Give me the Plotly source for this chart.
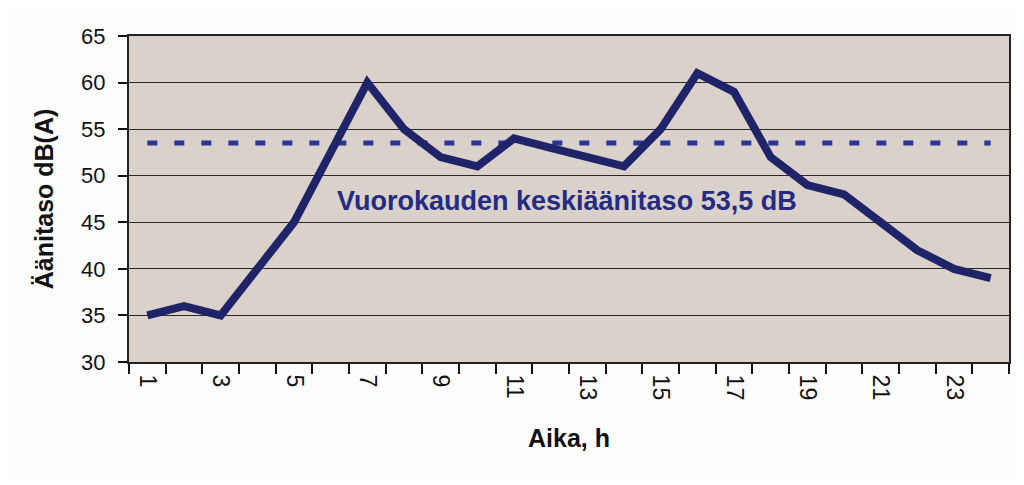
import plotly.graph_objects as go

# tunnit ja keskiäänitasot
hours = list(range(1, 25))
levels = [35, 36, 35, 40, 45, 52.5, 60, 55, 52, 51, 54, 53,
          52, 51, 55, 61, 59, 52, 49, 48, 45, 42, 40, 39]
day_avg = 53.5
avg_label = "Vuorokauden keskiäänitaso 53,5 dB"
x_ticks = [h for h in hours if h % 2 == 1]

fig = go.Figure()

# keskiarvoviiva
fig.add_trace(go.Scatter(
    x=hours, y=[day_avg] * len(hours), mode="lines",
    line=dict(color="#2b3593", width=5, dash="10px,17px"),
    showlegend=False, hoverinfo="skip"))

fig.add_trace(go.Scatter(
    x=hours, y=levels, mode="lines",
    line=dict(color="#1f2468", width=8),
    showlegend=False))

fig.add_annotation(x=12.45, y=47.3, text=avg_label, showarrow=False,
                   xanchor="center", yanchor="middle",
                   font=dict(family="Liberation Sans, Arial", size=27,
                             color="#252b80", weight="bold"))

# sivun oletusmarginaali 8px huomioitu
fig.update_layout(
    width=1008, height=469,
    margin=dict(l=121, r=5, t=28, b=115),
    paper_bgcolor="#fdfdfd",
    plot_bgcolor="#d9d1ca",
    font=dict(family="Liberation Sans, Arial", size=22, color="#111"),
)

fig.update_xaxes(
    range=[0.5, 24.5],
    tickmode="array", tickvals=x_ticks, ticktext=[str(h) for h in x_ticks],
    ticks="", tickangle=90, tickfont=dict(size=23),
    minor=dict(ticks="outside", tickmode="linear", tick0=0.5, dtick=1,
               ticklen=10, tickcolor="#111", tickwidth=1.5),
    showgrid=False, zeroline=False,
    showline=True, linecolor="#222", linewidth=2, mirror=True,
    ticklabelstandoff=6,
    title=dict(text="Aika, h", standoff=30,
               font=dict(size=25, weight="bold")),
)

fig.update_yaxes(
    range=[30, 65], dtick=5,
    ticks="outside", ticklen=9, tickcolor="#111", tickwidth=1.5,
    showgrid=True, gridcolor="#2a2a2a", gridwidth=1,
    zeroline=False,
    showline=True, linecolor="#222", linewidth=2, mirror=True,
    ticklabelstandoff=8,
    title=dict(text="Äänitaso dB(A)", standoff=20,
               font=dict(size=25, weight="bold")),
)

fig.write_html("out.html")
